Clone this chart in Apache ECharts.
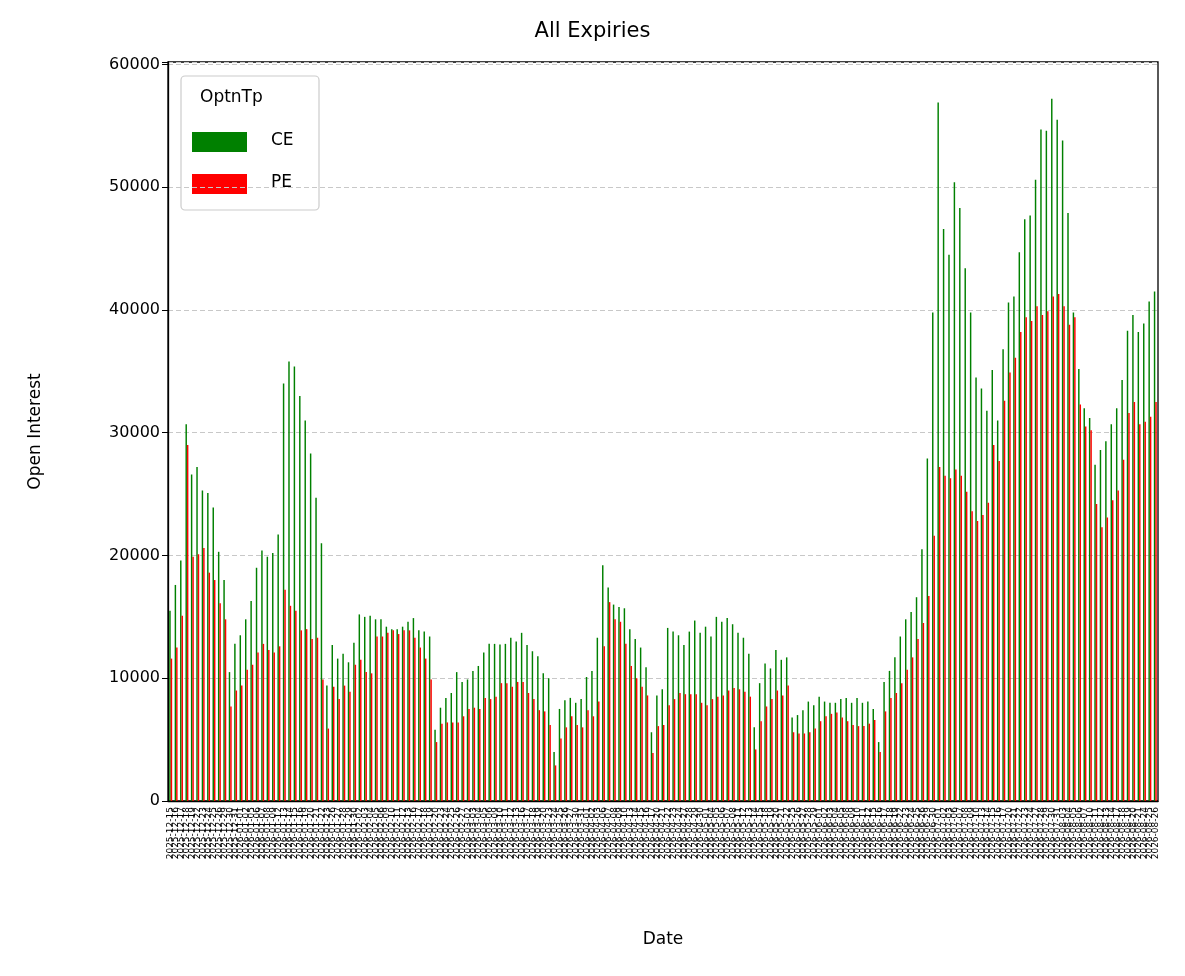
<!DOCTYPE html>
<html><head><meta charset="utf-8">
<script src="https://cdn.jsdelivr.net/npm/echarts@6/dist/echarts.min.js"></script>
<style>html,body{margin:0;padding:0;background:#fff}#c{width:1185px;height:976px}</style>
</head><body><div id="c"></div>
<script>
const ceValues = [15.5,17.6,19.6,30.7,26.6,27.2,25.3,25.1,23.9,20.3,18.0,10.5,12.8,13.5,14.8,16.3,19.0,20.4,19.9,20.2,21.7,34.0,35.8,35.4,33.0,31.0,28.3,24.7,21.0,9.4,
12.7,11.6,12.0,11.3,12.9,15.2,15.0,15.1,14.8,14.8,14.2,14.0,14.0,14.2,14.6,14.9,13.9,13.8,13.4,5.8,7.6,8.4,8.8,10.5,9.7,9.9,10.6,11.0,12.1,12.8,
12.8,12.75,12.8,13.3,13.0,13.7,12.7,12.2,11.8,10.4,10.0,4.0,7.5,8.2,8.4,8.0,8.3,10.1,10.6,13.3,19.2,17.4,16.0,15.8,15.7,14.0,13.2,12.5,10.9,5.6,
8.6,9.1,14.1,13.8,13.5,12.7,13.8,14.7,13.7,14.2,13.4,15.0,14.6,14.9,14.4,13.7,13.3,12.0,6.0,9.6,11.2,10.8,12.3,11.5,11.7,6.8,7.0,7.4,8.1,7.8,
8.5,8.1,8.0,8.0,8.3,8.4,8.0,8.4,8.0,8.1,7.5,4.8,9.7,10.6,11.7,13.4,14.8,15.4,16.6,20.5,27.9,39.8,56.9,46.6,44.5,50.4,48.3,43.4,39.8,34.5,
33.6,31.8,35.1,31.0,36.8,40.6,41.1,44.7,47.4,47.7,50.6,54.7,54.6,57.2,55.5,53.8,47.9,39.8,35.2,32.0,31.2,27.4,28.6,29.3,30.7,32.0,34.3,38.3,39.6,38.2,
38.9,40.7,41.5];
const peValues = [11.6,12.5,15.1,29.0,19.9,20.1,20.6,18.6,18.0,16.1,14.8,7.7,9.0,9.4,10.7,11.1,12.1,12.8,12.3,12.1,12.6,17.2,15.9,15.5,13.9,14.0,13.2,13.3,9.9,5.9,
9.3,8.3,9.4,8.9,11.1,11.5,10.5,10.4,13.4,13.4,13.7,13.9,13.6,13.9,13.9,13.3,12.5,11.6,9.9,4.8,6.3,6.4,6.4,6.4,6.9,7.5,7.6,7.5,8.4,8.3,
8.5,9.6,9.6,9.3,9.7,9.7,8.8,8.3,7.4,7.3,6.2,2.9,5.1,6.0,6.9,6.2,6.0,7.4,6.9,8.1,12.6,16.2,14.8,14.6,12.8,11.0,10.0,9.3,8.6,3.9,
6.1,6.2,7.8,8.3,8.8,8.7,8.7,8.7,8.0,7.8,8.3,8.5,8.6,9.0,9.2,9.1,8.9,8.5,4.2,6.5,7.7,8.3,9.0,8.6,9.4,5.6,5.5,5.5,5.6,5.9,
6.5,6.9,7.1,7.2,6.8,6.5,6.2,6.1,6.1,6.3,6.6,4.0,7.3,8.4,8.8,9.6,10.7,11.7,13.2,14.5,16.7,21.6,27.2,26.5,26.3,27.0,26.5,25.2,23.6,22.8,
23.3,24.3,29.0,27.7,32.6,34.9,36.1,38.2,39.4,39.1,40.3,39.6,39.9,41.1,41.3,40.3,38.8,39.4,32.3,30.5,30.2,24.2,22.3,23.1,24.5,25.3,27.8,31.6,32.5,30.7,
30.9,31.3,32.5];
const dates = [];
(function(){ let d = new Date(Date.UTC(2025,11,15));
  while (dates.length < ceValues.length) { const w = d.getUTCDay();
    if (w !== 0 && w !== 6) dates.push(d.toISOString().slice(0,10));
    d = new Date(d.getTime() + 86400000); } })();
const yTicks = [0,10000,20000,30000,40000,50000,60000];

const chart = echarts.init(document.getElementById('c'));
const F = 'DejaVu Sans';
chart.setOption({
  animation:false,
  title:{text:'All Expiries',left:'center',top:16,textStyle:{fontFamily:F,fontSize:21,fontWeight:'normal',color:'#000'}},
  grid:{left:168,right:27,top:62,bottom:175,show:true,borderColor:'#000',borderWidth:1.3,containLabel:false},
  legend:{show:false},
  xAxis:{type:'category',data:dates,name:'Date',nameLocation:'middle',nameGap:130,
    nameTextStyle:{fontFamily:F,fontSize:17,color:'#000'},
    axisLine:{lineStyle:{color:'#000',width:1.3}},axisTick:{alignWithLabel:true,length:5,lineStyle:{color:'#000'}},
    axisLabel:{interval:0,rotate:90,fontSize:9,fontFamily:F,color:'#000',margin:6,hideOverlap:false}},
  yAxis:{type:'value',min:0,max:60200,interval:10000,name:'Open Interest',nameLocation:'middle',nameGap:124,
    nameTextStyle:{fontFamily:F,fontSize:17,color:'#000'},
    axisLine:{show:true,lineStyle:{color:'#000',width:1.3}},axisTick:{show:true,length:6,lineStyle:{color:'#000'}},
    axisLabel:{fontFamily:F,fontSize:16,color:'#000',
      formatter:v=>yTicks.includes(v)?String(v):''},
    splitLine:{lineStyle:{color:'#c8c8c8',type:[5,3],width:1.2}}},
  series:[
    {name:'CE',type:'bar',data:ceValues.map(v=>v*1000),itemStyle:{color:'#008000'},barWidth:'27%',barGap:'0%'},
    {name:'PE',type:'bar',data:peValues.map(v=>v*1000),itemStyle:{color:'#ff0000'},barWidth:'27%',barGap:'0%'}
  ],
  graphic:[
    {type:'rect',shape:{x:181,y:76,width:138,height:134,r:4},style:{fill:'rgba(255,255,255,0.85)',stroke:'#cccccc',lineWidth:1.2}},
    {type:'text',x:200,y:89,style:{text:'OptnTp',font:'17px DejaVu Sans',fill:'#000'}},
    {type:'rect',shape:{x:192,y:132,width:55,height:20},style:{fill:'#008000'}},
    {type:'text',x:271,y:132,style:{text:'CE',font:'17px DejaVu Sans',fill:'#000'}},
    {type:'rect',shape:{x:192,y:174,width:55,height:20},style:{fill:'#ff0000'}},
    {type:'text',x:271,y:174,style:{text:'PE',font:'17px DejaVu Sans',fill:'#000'}}
  ]
});
</script></body></html>
